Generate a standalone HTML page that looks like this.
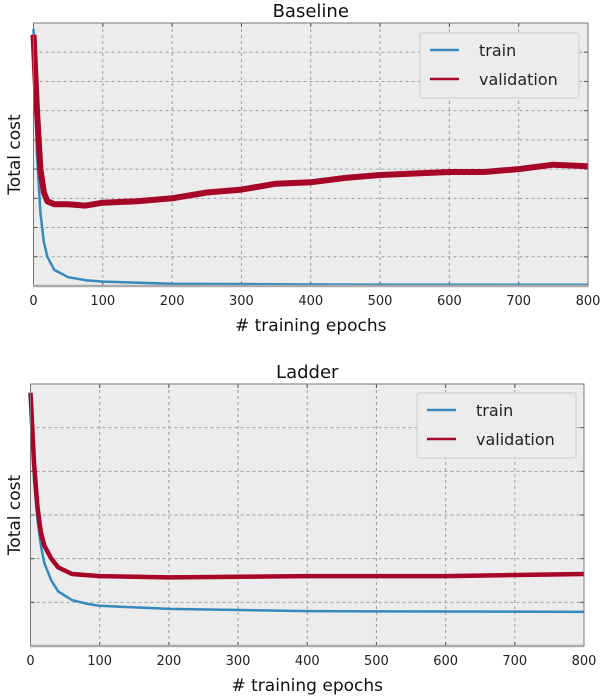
<!DOCTYPE html>
<html><head><meta charset="utf-8"><style>
body{margin:0;background:#fff;}
svg{display:block;font-family:"DejaVu Sans","Liberation Sans",sans-serif;}
</style></head><body>
<svg id="chart" width="602" height="698"></svg>
<script>
const xTicks=[0,100,200,300,400,500,600,700,800];
const topValEpochs=[0,5,10,15,20,30,50,75,100,150,200,250,300,350,400,450,500,550,600,650,700,750,800];
const topValValues=[8.6,6,4,3.2,2.9,2.8,2.8,2.75,2.85,2.9,3.0,3.2,3.3,3.5,3.55,3.7,3.8,3.85,3.9,3.9,4.0,4.15,4.1];
const topTrainEpochs=[0,3,5,10,15,20,30,50,75,100,200,400,800];
const topTrainValues=[8.8,6,4.5,2.5,1.5,1.0,0.55,0.3,0.2,0.15,0.08,0.05,0.04];
const botValEpochs=[0,5,10,15,20,30,40,60,100,200,400,600,800];
const botValValues=[5.8,4.2,3.2,2.6,2.3,2.0,1.8,1.65,1.6,1.57,1.6,1.6,1.65];
const botTrainEpochs=[0,5,10,15,20,30,40,60,80,100,200,400,800];
const botTrainValues=[5.7,3.8,2.9,2.3,1.9,1.5,1.25,1.05,0.97,0.92,0.85,0.8,0.78];

const NS="http://www.w3.org/2000/svg";
const svg=document.getElementById('chart');
function mk(tag,attrs,parent){const e=document.createElementNS(NS,tag);for(const k in attrs)e.setAttribute(k,attrs[k]);(parent||svg).appendChild(e);return e;}

function panel(cfg){
  const g=mk('g',{});
  
  
  const {L,R,T,B,ymax}=cfg;
  const xs=v=>L+(v/800)*(R-L);
  const ys=v=>B-(v/ymax)*(B-T);
  const bg=mk('rect',{x:L,y:T,width:R-L,height:B-T,fill:'#ececec'},g);
  
  
  for(let i=1;i<ymax;i++){
    const ln=mk('line',{x1:L,x2:R,y1:ys(i),y2:ys(i),stroke:'#a0a0a0','stroke-dasharray':'3,3','stroke-width':1},g);
    
    
    mk('line',{x1:R-4,x2:R,y1:ys(i),y2:ys(i),stroke:'#555'},g);
    mk('line',{x1:L,x2:L+4,y1:ys(i),y2:ys(i),stroke:'#555'},g);
  }
  xTicks.forEach(t=>{
    if(t>0&&t<800){
      const ln=mk('line',{x1:xs(t),x2:xs(t),y1:T,y2:B,stroke:'#a0a0a0','stroke-dasharray':'3,3'},g);
      
      
      mk('line',{x1:xs(t),x2:xs(t),y1:T,y2:T+4,stroke:'#555'},g);
      mk('line',{x1:xs(t),x2:xs(t),y1:B-4,y2:B,stroke:'#555'},g);
    }
    const tx=mk('text',{x:xs(t),y:B+19,'text-anchor':'middle','font-size':13,fill:'#222'},g);
    tx.textContent=t;
    
    
  });
  function line(ep,vals,color,w,nm){
    const d=ep.map((e,i)=>(i?'L':'M')+xs(e).toFixed(1)+','+ys(vals[i]).toFixed(1)).join(' ');
    const p=mk('path',{d:d,fill:'none',stroke:color,'stroke-width':w,'stroke-linejoin':'round'},g);
    
    
  }
  line(cfg.trainE,cfg.trainV,'#348abd',2.5,'train-line');
  line(cfg.valE,cfg.valV,'#a60628',cfg.valW,'validation-line');
  const fr=mk('rect',{x:L,y:T,width:R-L,height:B-T,fill:'none',stroke:'#777','stroke-width':1},g);
  
  
  mk('line',{x1:L,x2:R,y1:B,y2:B,stroke:'#aaa','stroke-width':2.5},g);
  const ti=mk('text',{x:(L+R)/2,y:T-6,'text-anchor':'middle','font-size':18,fill:'#111'},g);
  ti.textContent=cfg.title;
  
  
  const xl=mk('text',{x:(L+R)/2,y:B+45,'text-anchor':'middle','font-size':17,fill:'#111'},g);
  xl.textContent='# training epochs';
  
  
  const yl=mk('text',{x:0,y:0,'text-anchor':'middle','font-size':17,fill:'#111',transform:`translate(20,${(T+B)/2}) rotate(-90)`},g);
  yl.textContent='Total cost';
  
  
  const lg=mk('g',{},g);
  
  
  const lx=cfg.lx,ly=cfg.ly;
  mk('rect',{x:lx,y:ly,width:159,height:65,rx:2,fill:'#ececec',stroke:'#ccc'},lg);
  [['train','#348abd'],['validation','#a60628']].forEach((it,i)=>{
    const e=mk('g',{},lg);
    
    
    mk('line',{x1:lx+10,x2:lx+39,y1:ly+17+i*29,y2:ly+17+i*29,stroke:it[1],'stroke-width':2.5},e);
    const t=mk('text',{x:lx+59,y:ly+23+i*29,'font-size':16,fill:'#222'},e);
    t.textContent=it[0];
  });
}
panel({name:'baseline-panel',title:'Baseline',L:33.5,R:588,T:23,B:286,ymax:9,trainE:topTrainEpochs,trainV:topTrainValues,valE:topValEpochs,valV:topValValues,valW:6,lx:420,ly:33});
panel({name:'ladder-panel',title:'Ladder',L:30.5,R:584,T:384,B:646,ymax:6,trainE:botTrainEpochs,trainV:botTrainValues,valE:botValEpochs,valV:botValValues,valW:4.5,lx:417,ly:393});
</script>
</body></html>
